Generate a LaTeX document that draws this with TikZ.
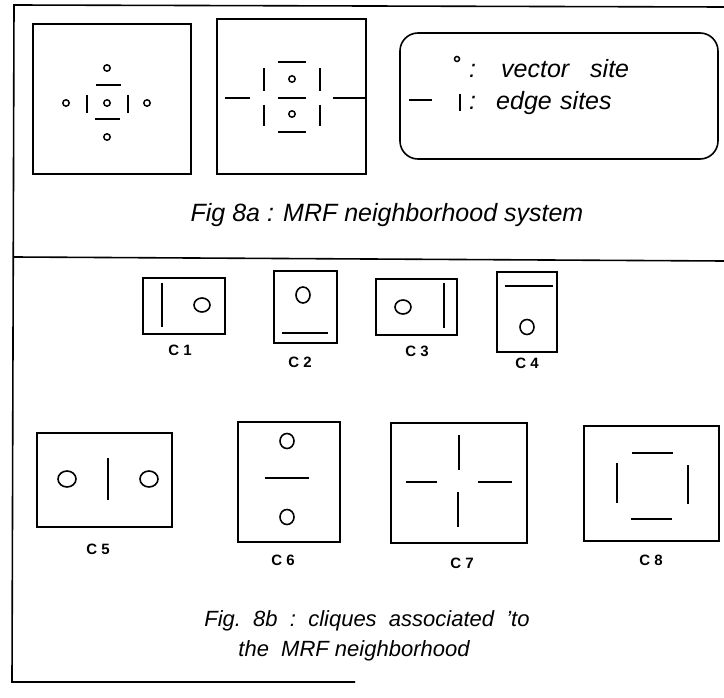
\documentclass[tikz,border=0pt]{standalone}
\usepackage{fontspec}
\setmainfont{Liberation Sans}
\begin{document}
\begin{tikzpicture}[x=1pt,y=-1pt,
  frame/.style={line width=1.6pt},
  bar/.style={line width=1.8pt},
  site/.style={line width=1.5pt},
  vsite/.style={line width=1.6pt},
  capA/.style={font=\fontsize{25}{29}\selectfont\itshape, inner sep=0pt},
  capB/.style={font=\fontsize{22}{26}\selectfont\itshape, inner sep=0pt},
  legtxt/.style={font=\fontsize{25}{29}\selectfont\itshape, inner sep=0pt, anchor=base west},
  lbl/.style={font=\fontsize{15}{17}\selectfont\bfseries, inner sep=0pt}]
\useasboundingbox (0,0) rectangle (724,698);

% outer frame
\draw[frame] (724,7) -- (14,5) -- (12,682) -- (355,682);
\draw[frame] (14,257) -- (724,261);

% ---------- Fig 8a, left box ----------
\draw[frame] (33,24) rectangle (191,174);
\foreach \p in {(107,68),(107,103),(107,137),(66,103),(147,103)}
  \draw[site] \p circle[radius=3.2];
\draw[bar] (96,85) -- (121,85);
\draw[bar] (95,119) -- (120,119);
\draw[bar] (87,95) -- (87,113);
\draw[bar] (128,95) -- (128,113);

% ---------- Fig 8a, middle box ----------
\draw[frame] (217,19) rectangle (366,174);
\draw[site] (292,79) circle[radius=3.2];
\draw[site] (292,114) circle[radius=3.2];
\draw[bar] (278,62) -- (306,62);
\draw[bar] (278,98) -- (306,98);
\draw[bar] (278,132) -- (306,132);
\draw[bar] (264,68) -- (264,91);
\draw[bar] (264,105) -- (264,126);
\draw[bar] (320,68) -- (320,91);
\draw[bar] (320,105) -- (320,126);
\draw[bar] (225,98) -- (250,98);
\draw[bar] (333,98) -- (366,98);

% ---------- legend ----------
\draw[frame, rounded corners=18pt] (400,33) rectangle (718,159);
\draw[site] (457,59) circle[radius=2.5];
\node[legtxt] (leg1a) at (469,78) {:};
\node[legtxt] (leg1b) at (501,78) {vector};
\node[legtxt] (leg1c) at (590,78) {site};
\draw[bar] (409,100) -- (432,100);
\draw[bar] (460,94) -- (460,111);
\node[legtxt] (leg2a) at (469,110) {:};
\node[legtxt] (leg2b) at (496,110) {edge};
\node[legtxt] (leg2c) at (560,110) {sites};

\node[capA, anchor=base] (captionA) at (387,222) {Fig 8a : MRF neighborhood system};

% ---------- cliques ----------
% C1
\draw[frame] (143,278) rectangle (225,334);
\draw[bar] (162,283) -- (162,327);
\draw[vsite] (202,305) ellipse[x radius=8, y radius=7];
\node[lbl] (c1) at (180,350) {C 1};
% C2
\draw[frame] (274,271) rectangle (337,343);
\draw[vsite] (303,295) ellipse[x radius=7, y radius=8];
\draw[bar] (282,333) -- (328,333);
\node[lbl] (c2) at (300,362) {C 2};
% C3
\draw[frame] (376,279) rectangle (457,335);
\draw[vsite] (403,307) ellipse[x radius=8, y radius=7];
\draw[bar] (444,283) -- (444,328);
\node[lbl] (c3) at (417,351) {C 3};
% C4
\draw[frame] (497,272) rectangle (557,352);
\draw[bar] (505,286) -- (553,286);
\draw[vsite] (527,327) ellipse[x radius=7, y radius=7.5];
\node[lbl] (c4) at (527,363) {C 4};

% C5
\draw[frame] (37,433) rectangle (172,527);
\draw[vsite] (67,479) ellipse[x radius=9, y radius=8];
\draw[vsite] (149,479) ellipse[x radius=9, y radius=8];
\draw[bar] (108,458) -- (108,500);
\node[lbl] (c5) at (98,549) {C 5};
% C6
\draw[frame] (238,422) rectangle (340,542);
\draw[vsite] (287,441) ellipse[x radius=7, y radius=7.5];
\draw[vsite] (287,517) ellipse[x radius=7, y radius=7.5];
\draw[bar] (265,478) -- (309,478);
\node[lbl] (c6) at (283,560) {C 6};
% C7
\draw[frame] (391,423) rectangle (527,543);
\draw[bar] (459,435) -- (459,470);
\draw[bar] (458,492) -- (458,527);
\draw[bar] (406,482) -- (437,482);
\draw[bar] (478,482) -- (512,482);
\node[lbl] (c7) at (462,563) {C 7};
% C8
\draw[frame] (584,426) rectangle (719,541);
\draw[bar] (632,453) -- (673,453);
\draw[bar] (631,519) -- (672,519);
\draw[bar] (617,463) -- (617,503);
\draw[bar] (688,465) -- (688,504);
\node[lbl] (c8) at (651,560) {C 8};

\node[capB, anchor=base] (captionB1) at (367,626) {Fig.\ \ 8b\ \ :\ \ cliques\ \ associated\ \ 'to};
\node[capB, anchor=base] (captionB2) at (354,656) {the\ \ MRF neighborhood};
\end{tikzpicture}
\end{document}
